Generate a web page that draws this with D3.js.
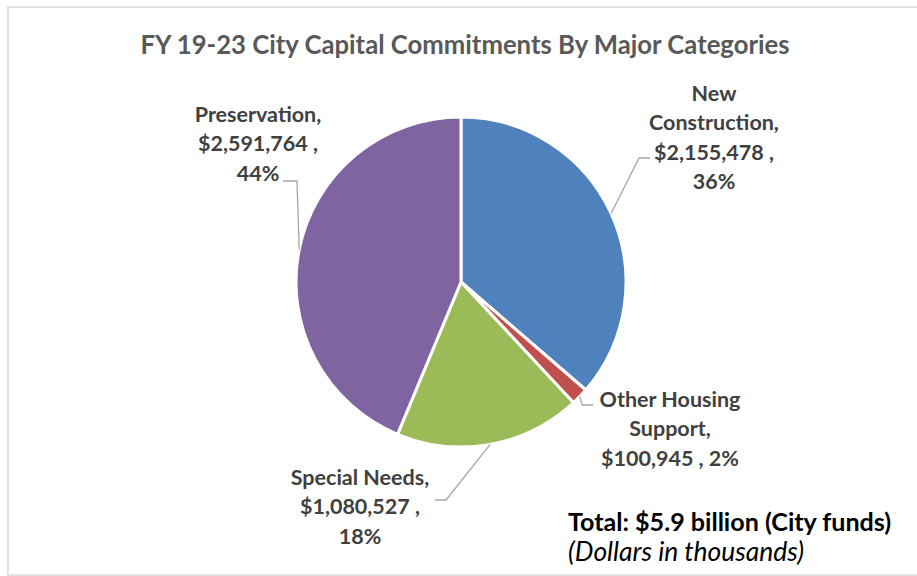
<!DOCTYPE html>
<html>
<head>
<meta charset="utf-8">
<script src="https://cdn.jsdelivr.net/npm/d3@7"></script>
<style>
  body { margin: 0; background: #fff; }
  svg text { font-family: Lato, "Open Sans", sans-serif; }
</style>
</head>
<body>
<div id="chart"></div>
<script>
// data
var categories = ["New Construction", "Other Housing Support", "Special Needs", "Preservation"];
var values = [2155478, 100945, 1080527, 2591764];
var nameLines = [["New", "Construction,"], ["Other Housing", "Support,"], ["Special Needs,"], ["Preservation,"]];
var pctOnValueLine = [false, true, false, false];
var colors = ["#4F81BD", "#C0504D", "#9BBB59", "#8064A2"];

var width = 917, height = 576;
var cx = 461, cy = 282, radius = 165;

// label placement (center x, first baseline) and leader line elbows
var labelPos = [[714, 101], [670, 407], [360, 485], [258, 122]];
var leaderPts = [[[639, 158], [650, 158]], [[582, 405], [593, 405]], [[446, 500], [435, 500]], [[297, 181], [283, 181]]];

var svg = d3.select("#chart").append("svg")
    .attr("width", width).attr("height", height);

// chart border
svg.append("rect")
    .attr("x", 8).attr("y", 7).attr("width", 920).attr("height", 568)
    .attr("fill", "none").attr("stroke", "#D9D9D9").attr("stroke-width", 1.5);

svg.append("text")
    .attr("x", 465).attr("y", 54)
    .attr("text-anchor", "middle")
    .attr("font-size", 25.7).attr("font-weight", "bold")
    .attr("fill", "#595959")
    .text("FY 19-23 City Capital Commitments By Major Categories");

var total = d3.sum(values);
var pie = d3.pie().sort(null).value(function(d) { return d; });
var arcs = pie(values);
var arc = d3.arc().innerRadius(0).outerRadius(radius);

var g = svg.append("g").attr("transform", "translate(" + cx + "," + cy + ")");

g.selectAll("path.slice")
  .data(arcs)
  .enter().append("path")
    .attr("class", "slice")
    .attr("d", arc)
    .attr("fill", function(d, i) { return colors[i]; })
    .attr("stroke", "#fff")
    .attr("stroke-width", 3)
    .attr("stroke-linejoin", "round");

var money = d3.format(",");
var pct = d3.format(".0%");

// leader lines
var line = d3.line();
svg.append("g").selectAll("path")
  .data(arcs)
  .enter().append("path")
    .attr("fill", "none")
    .attr("stroke", "#A6A6A6")
    .attr("stroke-width", 1.3)
    .attr("d", function(d, i) {
      var a = (d.startAngle + d.endAngle) / 2;
      var start = [cx + radius * Math.sin(a), cy - radius * Math.cos(a)];
      return line([start].concat(leaderPts[i]));
    });

// labels
var labels = svg.append("g").selectAll("text")
  .data(arcs)
  .enter().append("text")
    .attr("text-anchor", "middle")
    .attr("font-size", 21.5).attr("font-weight", "bold")
    .attr("fill", "#404040");

labels.each(function(d, i) {
  var p = pct(d.value / total);
  var valText = "$" + money(d.value) + " ,";
  var lines = nameLines[i].slice();
  if (pctOnValueLine[i]) lines.push(valText + " " + p);
  else { lines.push(valText); lines.push(p); }
  var t = d3.select(this);
  lines.forEach(function(s, k) {
    t.append("tspan")
      .attr("x", labelPos[i][0])
      .attr("y", labelPos[i][1] + k * 29.3)
      .text(s);
  });
});

svg.append("text")
    .attr("x", 568).attr("y", 531)
    .attr("font-size", 25.1).attr("font-weight", "bold")
    .attr("fill", "#000")
    .text("Total: $5.9 billion (City funds)");

svg.append("text")
    .attr("x", 568).attr("y", 561)
    .attr("font-size", 26.4).attr("font-style", "italic")
    .attr("fill", "#000")
    .text("(Dollars in thousands)");
</script>
</body>
</html>
